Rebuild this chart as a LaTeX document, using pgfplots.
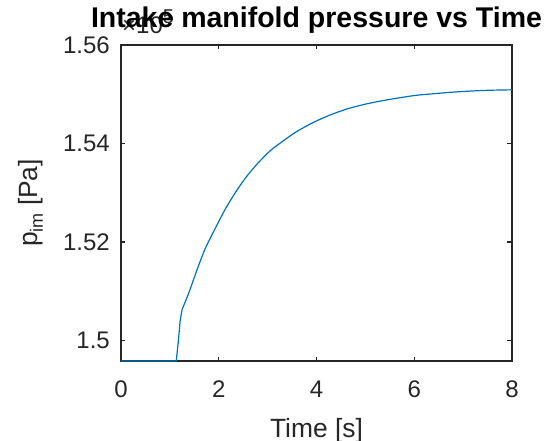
\documentclass[border=0pt]{standalone}
\usepackage{pgfplots}
\pgfplotsset{compat=1.18}
\usepackage{fontspec}
\setmainfont{Liberation Sans}
\definecolor{mblue}{rgb}{0,0.447,0.741}
\definecolor{axgray}{rgb}{0.15,0.15,0.15}
\begin{document}
\begin{tikzpicture}
\path[use as bounding box] (-121bp,-80bp) rectangle (427bp,361bp);
\begin{axis}[
  at={(0,0)}, anchor=south west,
  width=391bp, height=316bp, scale only axis,
  xmin=0, xmax=8, ymin=1.49584, ymax=1.56,
  xtick={0,2,4,6,8}, ytick={1.5,1.52,1.54,1.56},
  tick align=inside, major tick length=4.5bp,
  axis line style={axgray, line width=1.3bp},
  every tick/.style={axgray, line width=1.3bp},
  /pgf/number format/assume math mode=true,
  tick label style={font=\fontsize{24bp}{28bp}\selectfont, text=axgray, inner sep=0pt},
  xticklabel style={anchor=base, yshift=-36bp},
  yticklabel style={anchor=east, xshift=-11bp, /pgf/number format/fixed, /pgf/number format/precision=2},
  xlabel={Time [s]},
  xlabel style={at={([yshift=-76bp]axis description cs:0.5,0)}, anchor=base, font=\fontsize{26.4bp}{30bp}\selectfont, text=axgray, inner sep=0pt},
  ylabel={p\raisebox{-5bp}{\fontsize{18bp}{20bp}\selectfont im} [Pa]},
  ylabel style={at={([xshift=-83bp]axis description cs:0,0.5)}, anchor=base, font=\fontsize{26.4bp}{30bp}\selectfont, text=axgray, inner sep=0pt},
  title={Intake manifold pressure vs Time},
  title style={at={([yshift=12bp]axis description cs:0.5,1)}, anchor=base, font=\bfseries\fontsize{28.5bp}{32bp}\selectfont, inner sep=0pt},
  clip=false,
]
\node[anchor=base west, inner sep=0pt, text=axgray, font=\fontsize{24bp}{28bp}\selectfont] at ([yshift=11bp,xshift=1bp]rel axis cs:0,1) {×10\raisebox{10bp}{\fontsize{20bp}{22bp}\selectfont 5}};
\addplot[mblue, line width=1.2bp, line join=round] coordinates {
(0,1.49584) (1.13,1.49584) (1.17,1.4995) (1.21,1.5040) (1.25,1.5063)
};
\addplot[mblue, line width=1.2bp, smooth, tension=0.4] coordinates {
(1.25,1.5063) (1.30,1.5075) (1.40,1.5100) (1.55,1.5142) (1.72,1.5186) (1.92,1.5226) (2.14,1.5268)
(2.37,1.5305) (2.57,1.5333) (2.80,1.5360) (3.05,1.5385) (3.30,1.5404) (3.59,1.5424)
(3.94,1.5443) (4.28,1.5458) (4.62,1.5470) (4.96,1.5479) (5.30,1.5486) (5.71,1.5493)
(6.05,1.5498) (6.39,1.5501) (6.75,1.5504) (7.07,1.5506) (7.5,1.5508) (8,1.5509)
};
\end{axis}
\end{tikzpicture}
\end{document}
